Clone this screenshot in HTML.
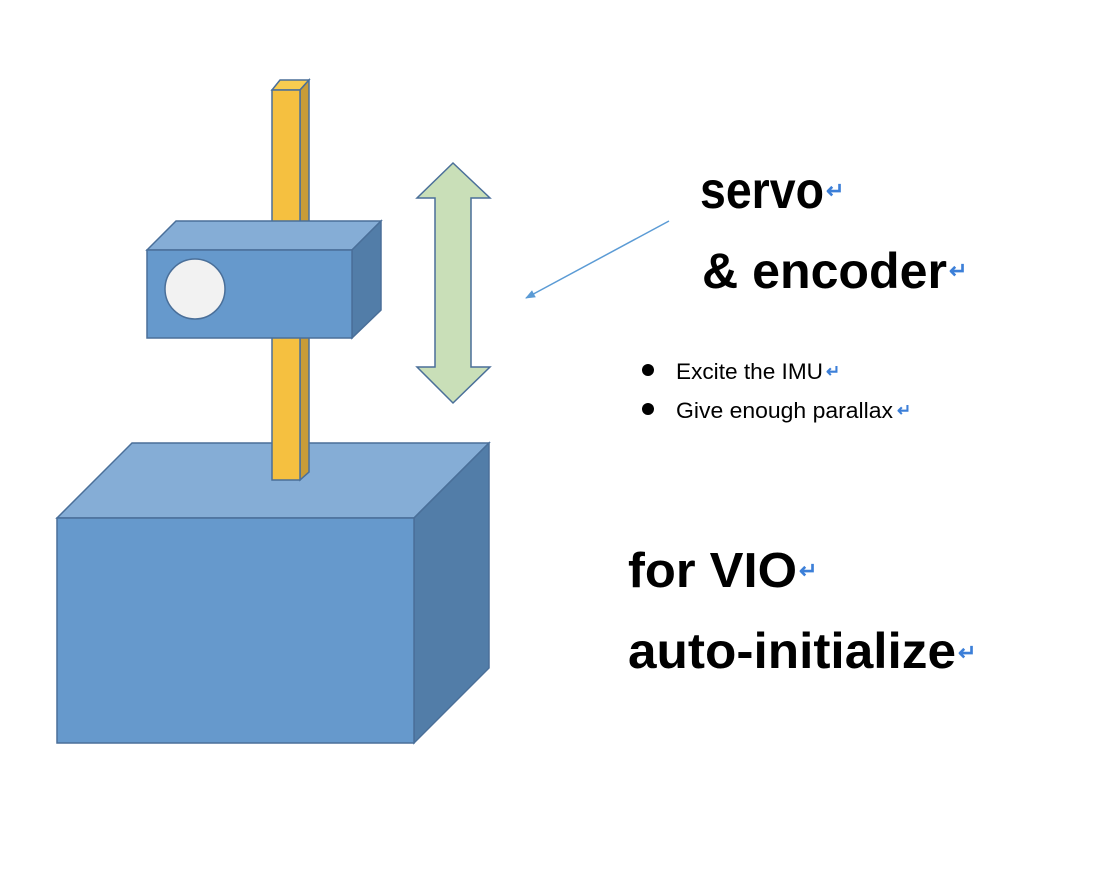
<!DOCTYPE html>
<html><head><meta charset="utf-8"><style>html,body{margin:0;padding:0;background:#fff}</style></head>
<body>
<svg width="1102" height="870" viewBox="0 0 1102 870" xmlns="http://www.w3.org/2000/svg" font-family="Liberation Sans, sans-serif">
<defs><marker id="ah" markerWidth="10" markerHeight="8" refX="9" refY="4" orient="auto" markerUnits="userSpaceOnUse"><path d="M0,0 L10,4 L0,8 z" fill="#5b9bd5"/></marker></defs>
<g stroke="#4a6f99" stroke-width="1.5" stroke-linejoin="miter">
<polygon points="57,518 132,443 489,443 414,518" fill="#85add6"/>
<polygon points="414,518 489,443 489,668 414,743" fill="#527da8"/>
<rect x="57" y="518" width="357" height="225" fill="#6699cc"/>
<polygon points="272,90 280,80 309,80 300,90" fill="#f8cc50"/>
<polygon points="300,90 309,80 309,472 300,480" fill="#c89c38"/>
<rect x="272" y="90" width="28" height="390" fill="#f5c040"/>
<polygon points="147,250 176,221 381,221 352,250" fill="#85add6"/>
<polygon points="352,250 381,221 381,310 352,338" fill="#527da8"/>
<rect x="147" y="250" width="205" height="88" fill="#6699cc"/>
<circle cx="195" cy="289" r="30" fill="#f2f2f2"/>
<polygon points="453,163 490,198 471,198 471,367 490,367 453,403 417,367 435,367 435,198 417,198" fill="#c9dfb8"/>
</g>
<line x1="669" y1="221" x2="526" y2="298" stroke="#5b9bd5" stroke-width="1.5" marker-end="url(#ah)"/>
<g font-weight="bold" fill="#000">
<text x="700" y="208" font-size="52" textLength="124" lengthAdjust="spacingAndGlyphs">servo</text>
<text x="702" y="288" font-size="50" textLength="245" lengthAdjust="spacingAndGlyphs">&amp; encoder</text>
<text x="628" y="587" font-size="49" textLength="169" lengthAdjust="spacingAndGlyphs">for VIO</text>
<text x="628" y="668" font-size="50" textLength="328" lengthAdjust="spacingAndGlyphs">auto-initialize</text>
</g>
<g fill="#3c7fd8" font-size="22" font-weight="bold">
<text x="826" y="198">↵</text>
<text x="949" y="278">↵</text>
<text x="799" y="578">↵</text>
<text x="958" y="660">↵</text>
<text x="826" y="377" font-size="17">↵</text>
<text x="897" y="416" font-size="17">↵</text>
</g>
<circle cx="648" cy="370" r="6" fill="#000"/>
<circle cx="648" cy="409" r="6" fill="#000"/>
<g font-size="22" fill="#000">
<text x="676" y="379" textLength="147" lengthAdjust="spacingAndGlyphs">Excite the IMU</text>
<text x="676" y="418" textLength="217" lengthAdjust="spacingAndGlyphs">Give enough parallax</text>
</g>
</svg>
</body></html>
